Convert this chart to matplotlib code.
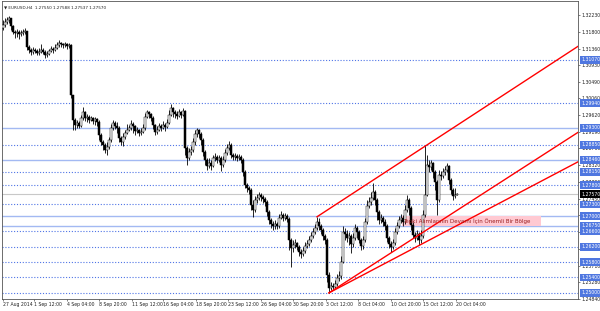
import matplotlib
matplotlib.use("Agg")
import matplotlib.pyplot as plt
from matplotlib.patches import Rectangle

# EURUSD H4 bars, 27 Aug - 20 Oct 2014
first_open = 1.3190
closes = [
    1.3197, 1.3205, 1.3210, 1.3215, 1.3194, 1.3179, 1.3176, 1.3179, 1.3174, 1.3176, 1.3179, 1.3181,
    1.3140, 1.3132, 1.3127, 1.3132, 1.3129, 1.3124, 1.3127, 1.3132, 1.3127, 1.3119, 1.3122, 1.3129,
    1.3135, 1.3132, 1.3137, 1.3145, 1.3150, 1.3148, 1.3145, 1.3148, 1.3142, 1.3145, 1.3015, 1.2950,
    1.2937, 1.2942, 1.2934, 1.2955, 1.2971, 1.2955, 1.2958, 1.2950, 1.2955, 1.2947, 1.2953, 1.2945,
    1.2911, 1.2893, 1.2885, 1.2872, 1.2880, 1.2898, 1.2929, 1.2942, 1.2934, 1.2929, 1.2903, 1.2893,
    1.2906, 1.2916, 1.2924, 1.2929, 1.2940, 1.2934, 1.2921, 1.2924, 1.2916, 1.2919, 1.2929, 1.2958,
    1.2971, 1.2966, 1.2955, 1.2937, 1.2919, 1.2924, 1.2934, 1.2929, 1.2937, 1.2932, 1.2942, 1.2963,
    1.2981, 1.2971, 1.2966, 1.2960, 1.2971, 1.2963, 1.2973, 1.2877, 1.2851, 1.2867, 1.2872, 1.2893,
    1.2914, 1.2924, 1.2914, 1.2898, 1.2867, 1.2846, 1.2830, 1.2838, 1.2830, 1.2851, 1.2854, 1.2846,
    1.2851, 1.2833, 1.2846, 1.2864, 1.2877, 1.2885, 1.2859, 1.2854, 1.2856, 1.2851, 1.2854, 1.2846,
    1.2815, 1.2781, 1.2773, 1.2768, 1.2729, 1.2716, 1.2742, 1.2747, 1.2755, 1.2750, 1.2745, 1.2737,
    1.2711, 1.2690, 1.2680, 1.2674, 1.2680, 1.2674, 1.2695, 1.2703, 1.2695, 1.2700, 1.2693, 1.2638,
    1.2617, 1.2625, 1.2630, 1.2620, 1.2607, 1.2602, 1.2609, 1.2622, 1.2628, 1.2638, 1.2648, 1.2659,
    1.2669, 1.2685, 1.2674, 1.2664, 1.2648, 1.2638, 1.2547, 1.2513, 1.2518, 1.2516, 1.2524, 1.2539,
    1.2544, 1.2581, 1.2659, 1.2654, 1.2643, 1.2648, 1.2628, 1.2643, 1.2669, 1.2659, 1.2638, 1.2622,
    1.2638, 1.2685, 1.2726, 1.2737, 1.2747, 1.2763, 1.2742, 1.2711, 1.2690, 1.2695, 1.2685, 1.2674,
    1.2643, 1.2628, 1.2620, 1.2630, 1.2659, 1.2674, 1.2690, 1.2695, 1.2685, 1.2716, 1.2742, 1.2721,
    1.2677, 1.2651, 1.2643, 1.2654, 1.2638, 1.2648, 1.2703, 1.2755, 1.2833, 1.2828, 1.2838, 1.2815,
    1.2789, 1.2742, 1.2807, 1.2804, 1.2815, 1.2820, 1.2830, 1.2794, 1.2768, 1.2752, 1.2755, 1.27570,
]
highs = [
    1.3210, 1.3215, 1.3218, 1.3220, 1.3215, 1.3197, 1.3184, 1.3187, 1.3184, 1.3184, 1.3187, 1.3189,
    1.3179, 1.3145, 1.3137, 1.3140, 1.3137, 1.3135, 1.3137, 1.3148, 1.3137, 1.3132, 1.3129, 1.3135,
    1.3142, 1.3140, 1.3148, 1.3153, 1.3158, 1.3153, 1.3150, 1.3153, 1.3150, 1.3150, 1.3148, 1.3015,
    1.2955, 1.2950, 1.2947, 1.2963, 1.2984, 1.2973, 1.2966, 1.2963, 1.2960, 1.2958, 1.2958, 1.2955,
    1.2950, 1.2916, 1.2898, 1.2890, 1.2893, 1.2906, 1.2940, 1.2950, 1.2947, 1.2945, 1.2934, 1.2908,
    1.2916, 1.2924, 1.2940, 1.2937, 1.2950, 1.2945, 1.2937, 1.2932, 1.2927, 1.2929, 1.2940, 1.2968,
    1.2976, 1.2973, 1.2968, 1.2960, 1.2940, 1.2934, 1.2942, 1.2940, 1.2947, 1.2942, 1.2953, 1.2976,
    1.2992, 1.2984, 1.2976, 1.2973, 1.2979, 1.2973, 1.2981, 1.2976, 1.2882, 1.2877, 1.2882, 1.2903,
    1.2924, 1.2929, 1.2927, 1.2919, 1.2903, 1.2872, 1.2851, 1.2851, 1.2846, 1.2859, 1.2864, 1.2859,
    1.2859, 1.2856, 1.2856, 1.2875, 1.2888, 1.2895, 1.2890, 1.2864, 1.2864, 1.2862, 1.2862, 1.2859,
    1.2851, 1.2820, 1.2786, 1.2778, 1.2773, 1.2742, 1.2752, 1.2758, 1.2763, 1.2760, 1.2755, 1.2750,
    1.2742, 1.2716, 1.2695, 1.2687, 1.2690, 1.2685, 1.2706, 1.2713, 1.2708, 1.2708, 1.2706, 1.2698,
    1.2643, 1.2638, 1.2641, 1.2633, 1.2625, 1.2615, 1.2620, 1.2633, 1.2638, 1.2648, 1.2659, 1.2669,
    1.2680, 1.2698, 1.2695, 1.2680, 1.2669, 1.2654, 1.2643, 1.2555, 1.2529, 1.2526, 1.2534, 1.2550,
    1.2557, 1.2596, 1.2674, 1.2669, 1.2664, 1.2659, 1.2654, 1.2656, 1.2680, 1.2674, 1.2664, 1.2643,
    1.2648, 1.2695, 1.2742, 1.2750, 1.2763, 1.2786, 1.2768, 1.2747, 1.2716, 1.2706, 1.2700, 1.2693,
    1.2680, 1.2648, 1.2635, 1.2641, 1.2669, 1.2685, 1.2700, 1.2706, 1.2703, 1.2729, 1.2755, 1.2747,
    1.2726, 1.2685, 1.2659, 1.2664, 1.2659, 1.2664, 1.2716, 1.2885, 1.2859, 1.2846, 1.2846, 1.2841,
    1.2820, 1.2794, 1.2820, 1.2817, 1.2825, 1.2830, 1.2838, 1.2833, 1.2799, 1.2773, 1.2773, 1.27588,
]
lows = [
    1.3184, 1.3192, 1.3200, 1.3202, 1.3184, 1.3174, 1.3163, 1.3166, 1.3161, 1.3168, 1.3171, 1.3174,
    1.3132, 1.3124, 1.3119, 1.3122, 1.3124, 1.3119, 1.3119, 1.3124, 1.3122, 1.3111, 1.3114, 1.3119,
    1.3127, 1.3124, 1.3129, 1.3135, 1.3140, 1.3140, 1.3137, 1.3140, 1.3135, 1.3137, 1.3007, 1.2924,
    1.2924, 1.2929, 1.2929, 1.2932, 1.2950, 1.2947, 1.2945, 1.2942, 1.2947, 1.2940, 1.2937, 1.2934,
    1.2898, 1.2885, 1.2872, 1.2864, 1.2859, 1.2875, 1.2893, 1.2924, 1.2927, 1.2916, 1.2893, 1.2885,
    1.2882, 1.2901, 1.2914, 1.2921, 1.2924, 1.2916, 1.2911, 1.2916, 1.2908, 1.2911, 1.2916, 1.2924,
    1.2955, 1.2955, 1.2947, 1.2927, 1.2911, 1.2914, 1.2921, 1.2921, 1.2927, 1.2921, 1.2929, 1.2940,
    1.2960, 1.2958, 1.2955, 1.2953, 1.2958, 1.2955, 1.2960, 1.2859, 1.2833, 1.2846, 1.2859, 1.2867,
    1.2885, 1.2906, 1.2903, 1.2885, 1.2856, 1.2833, 1.2820, 1.2825, 1.2820, 1.2828, 1.2843, 1.2838,
    1.2841, 1.2817, 1.2828, 1.2841, 1.2859, 1.2872, 1.2851, 1.2846, 1.2846, 1.2843, 1.2846, 1.2838,
    1.2804, 1.2773, 1.2763, 1.2758, 1.2716, 1.2698, 1.2711, 1.2734, 1.2742, 1.2739, 1.2734, 1.2726,
    1.2700, 1.2680, 1.2669, 1.2664, 1.2667, 1.2667, 1.2669, 1.2693, 1.2687, 1.2690, 1.2685, 1.2612,
    1.2568, 1.2607, 1.2617, 1.2612, 1.2596, 1.2591, 1.2596, 1.2604, 1.2617, 1.2622, 1.2633, 1.2643,
    1.2654, 1.2664, 1.2664, 1.2654, 1.2638, 1.2628, 1.2529, 1.2500, 1.2508, 1.2508, 1.2511, 1.2518,
    1.2531, 1.2537, 1.2578, 1.2638, 1.2633, 1.2625, 1.2604, 1.2620, 1.2638, 1.2643, 1.2630, 1.2612,
    1.2615, 1.2633, 1.2680, 1.2721, 1.2729, 1.2742, 1.2729, 1.2690, 1.2680, 1.2682, 1.2674, 1.2664,
    1.2633, 1.2617, 1.2607, 1.2615, 1.2625, 1.2654, 1.2669, 1.2682, 1.2674, 1.2680, 1.2711, 1.2703,
    1.2664, 1.2643, 1.2633, 1.2638, 1.2625, 1.2630, 1.2643, 1.2698, 1.2752, 1.2815, 1.2820, 1.2799,
    1.2768, 1.2703, 1.2737, 1.2794, 1.2799, 1.2807, 1.2815, 1.2784, 1.2758, 1.2742, 1.2747, 1.27537,
]

header = "\u25bc EURUSD,H4  1.27550 1.27588 1.27537 1.27570"

date_pos = [0, 15.5, 32, 48, 64.5, 80, 96.5, 112.5, 129, 145, 161.5, 177.5, 194, 210, 226.5]
date_labels = ["27 Aug 2014", "1 Sep 12:00", "4 Sep 04:00", "8 Sep 20:00", "11 Sep 12:00",
               "16 Sep 04:00", "18 Sep 20:00", "23 Sep 12:00", "26 Sep 04:00", "30 Sep 20:00",
               "3 Oct 12:00", "8 Oct 04:00", "10 Oct 20:00", "15 Oct 12:00", "20 Oct 04:00"]

price_ticks = [1.32230, 1.31800, 1.31360, 1.30930, 1.30490, 1.30060, 1.29620, 1.29190, 1.28760,
               1.28320, 1.27890, 1.27450, 1.27020, 1.26580, 1.26150, 1.25710, 1.25280, 1.24840]

dotted_levels = [1.31070, 1.29940, 1.28850, 1.28150, 1.27800, 1.27300,
                 1.26600, 1.26200, 1.25800, 1.25400, 1.25000]
solid_levels = [1.29300, 1.28460, 1.27000, 1.26750]
last_price = 1.27570

# trend channel: (bar, price) anchor pairs, drawn as rays to the right
trend_lines = [
    ((157, 1.2698), (287, 1.3140)),
    ((163, 1.2500), (268.5, 1.2854)),
    ((163, 1.2500), (268.5, 1.2789)),
]

zone_bars = (199.5, 269)
zone_prices = (1.26750, 1.27000)
zone_text = "Tepki Alımlarının Devamı İçin Önemli Bir Bölge"

X_MIN, X_MAX = -0.5, 287.5
Y_MIN, Y_MAX = 1.2484, 1.32597

fig = plt.figure(figsize=(6.0, 3.11), dpi=100)
ax = fig.add_axes([2 / 600, 12 / 311, 576 / 600, 298 / 311])
ax.set_xlim(X_MIN, X_MAX)
ax.set_ylim(Y_MIN, Y_MAX)

# horizontal levels
for lv in dotted_levels:
    ax.axhline(lv, color="#4f74e6", lw=0.8, ls=(0, (1, 1.6)), zorder=1)
for lv in solid_levels:
    ax.axhline(lv, color="#a3b9f2", lw=1.0, zorder=1)
ax.axhline(last_price, color="#c8c8c8", lw=0.8, zorder=1)

# support zone
ax.add_patch(Rectangle((zone_bars[0], zone_prices[0]), zone_bars[1] - zone_bars[0],
                       zone_prices[1] - zone_prices[0], fc="#ffc9d2", ec="none", zorder=1.5))
ax.text(zone_bars[0] + 0.5, sum(zone_prices) / 2, zone_text, fontsize=4.0,
        color="#9b1c1c", va="center", ha="left", zorder=6)

# candles
opens = [first_open] + closes[:-1]
xs = list(range(len(closes)))
hi = [max(h, o, c) for h, o, c in zip(highs, opens, closes)]
lo = [min(l, o, c) for l, o, c in zip(lows, opens, closes)]
ax.vlines(xs, lo, hi, color="black", lw=0.6, zorder=3)
bottoms = [min(o, c) for o, c in zip(opens, closes)]
heights = [max(abs(c - o), 0.00005) for o, c in zip(opens, closes)]
colors = ["white" if c >= o else "black" for o, c in zip(opens, closes)]
ax.bar(xs, heights, bottom=bottoms, width=0.75, color=colors, edgecolor="black",
       linewidth=0.35, zorder=4)

# trend channel rays
for (x1, y1), (x2, y2) in trend_lines:
    slope = (y2 - y1) / (x2 - x1)
    ax.plot([x1, X_MAX], [y1, y1 + slope * (X_MAX - x1)], color="red", lw=1.0, zorder=5)

# axes styling
for s in ax.spines.values():
    s.set_color("#555555")
    s.set_linewidth(0.6)
ax.yaxis.tick_right()
ax.set_yticks(price_ticks)
ax.set_yticklabels([f"{v:.5f}" for v in price_ticks])
ax.set_xticks(date_pos)
ax.set_xticklabels(date_labels, ha="left")
ax.tick_params(axis="both", labelsize=3.3, length=1.5, width=0.4, pad=0.8,
               colors="#222222")

# level labels on the price scale
for lv in dotted_levels + solid_levels:
    ax.text(1.0055, lv, f"{lv:.5f}", transform=ax.get_yaxis_transform(), fontsize=3.3,
            color="white", va="center", ha="left", zorder=7,
            bbox=dict(boxstyle="square,pad=0.3", fc="#4f77e0", ec="none"))
ax.text(1.0055, last_price, f"{last_price:.5f}", transform=ax.get_yaxis_transform(),
        fontsize=3.3, color="white", va="center", ha="left", zorder=8,
        bbox=dict(boxstyle="square,pad=0.3", fc="black", ec="none"))

ax.text(0.004, 0.985, header, transform=ax.transAxes, fontsize=3.0, color="#222222",
        va="top", ha="left")

fig.savefig("out.png", dpi=100, facecolor="white")
